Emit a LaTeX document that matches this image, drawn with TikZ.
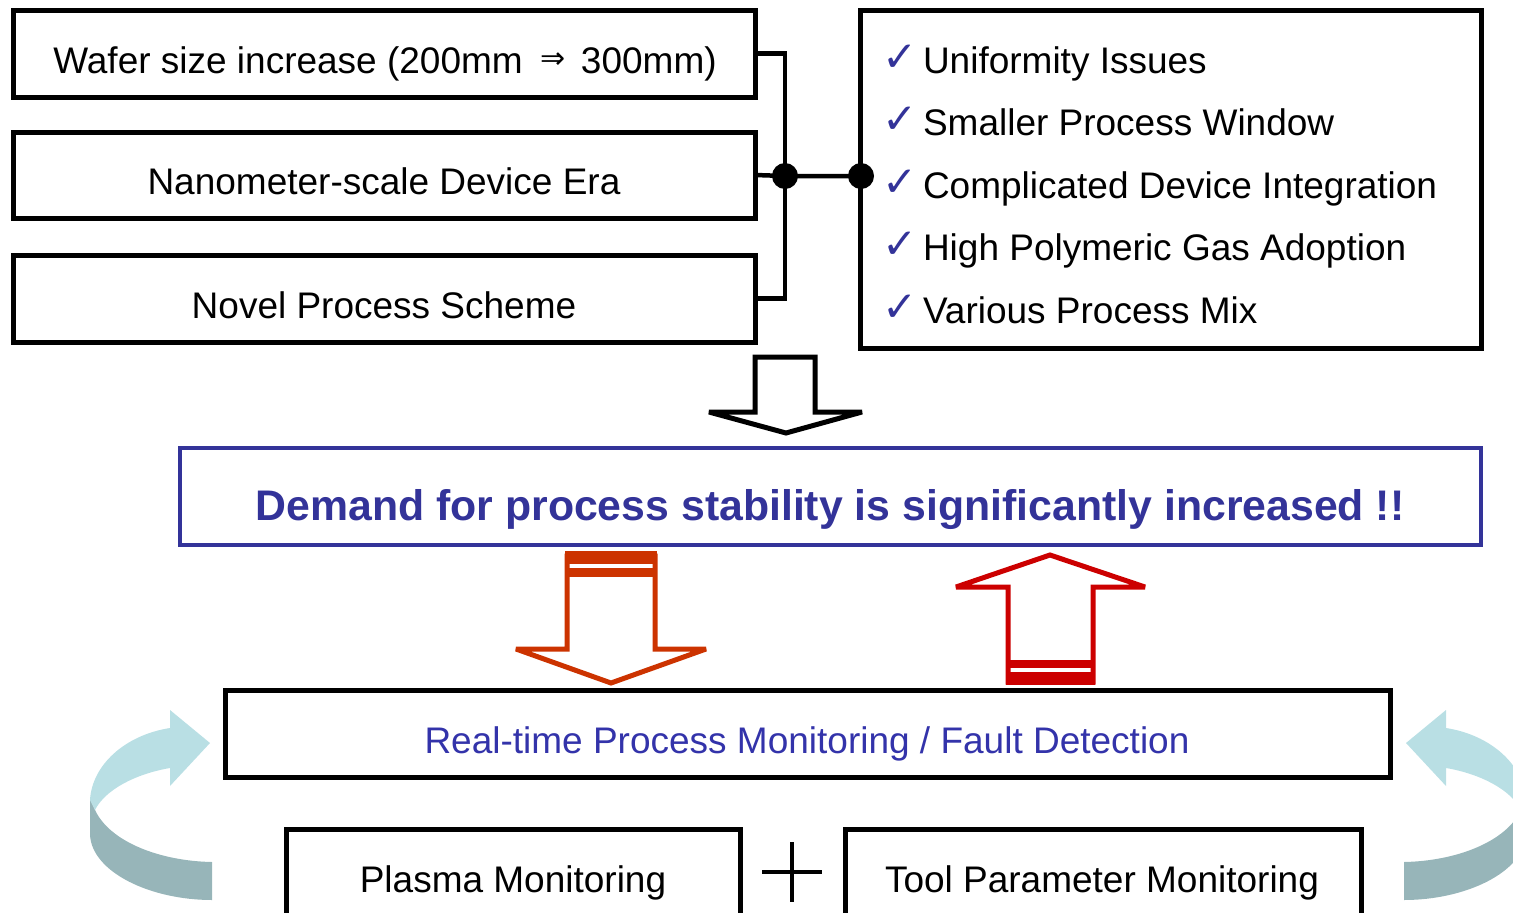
\documentclass[tikz,border=0pt]{standalone}
\usepackage{fontspec}
\setmainfont{Liberation Sans}
\newfontfamily\symfont{DejaVu Sans}
\definecolor{navy}{HTML}{333399}
\definecolor{rtblue}{HTML}{3333AA}
\definecolor{downred}{HTML}{CC3300}
\definecolor{upred}{HTML}{CC0000}
\definecolor{ribbonlight}{HTML}{B9DFE4}
\definecolor{ribbondark}{HTML}{97B5B9}
\tikzset{
  box/.style={draw=black, line width=5pt, inner sep=0pt, outer sep=0pt},
  bluebox/.style={draw=navy, line width=4pt, inner sep=0pt, outer sep=0pt},
  txt/.style={inner sep=0pt, outer sep=0pt, font=\fontsize{37}{44}\selectfont},
  chk/.style={inner sep=0pt, outer sep=0pt, text=navy, font=\symfont\fontsize{42}{46}\selectfont},
  wire/.style={line width=4.5pt},
  dot/.style={circle, fill=black, minimum size=26pt, inner sep=0pt, outer sep=0pt},
  hollow/.style={line width=5pt, line join=miter, miter limit=4, fill=white},
}
% curved ribbon arrow (light upper face, dark lower face)
\newcommand\ribbonshape{%
  \fill[ribbondark] (90,798) -- (90,835) .. controls (92,872) and (150,900) .. (212,900)
    -- (212,862) .. controls (160,861) and (110,842) .. (95,810) -- cycle;
  \fill[ribbonlight] (90,800) .. controls (92,765) and (125,735) .. (170,728)
    -- (170,710) -- (210,743) -- (170,786) -- (170,768)
    .. controls (135,774) and (105,790) .. (95,810) -- cycle;
}
\newcommand\thinimplies{\raisebox{5pt}{\symfont\fontsize{30}{34}\selectfont ⇒}}
\begin{document}
\begin{tikzpicture}[x=1pt, y=-1pt]
\useasboundingbox (0,0) rectangle (1513,913);
\clip (0,0) rectangle (1513,913);

% --- causes (left column)
\node[box, minimum width=742pt, minimum height=87pt] (wafer) at (384,53.5) {};
\node[box, minimum width=742pt, minimum height=86pt] (nano) at (384,175) {};
\node[box, minimum width=742pt, minimum height=87pt] (novel) at (384,298.5) {};
\node[txt, anchor=base] (waferT) at (385,73)
  {Wafer size increase (200mm\hspace{18pt}\thinimplies\hspace{15pt}300mm)};
\node[txt, anchor=base] (nanoT) at (384,194) {Nanometer-scale Device Era};
\node[txt, anchor=base] (novelT) at (384,318) {Novel Process Scheme};

% --- issues (right box)
\node[box, minimum width=621pt, minimum height=338pt] (issues) at (1170.5,179) {};
\foreach \t [count=\i from 0] in {Uniformity Issues, Smaller Process Window,
    Complicated Device Integration, High Polymeric Gas Adoption, Various Process Mix}{
  \node[chk, anchor=base west] (chk\i) at (882,{71+62.6*\i}) {✓};
  \node[txt, anchor=base west] (issue\i) at (923,{73+62.6*\i}) {\t};
}

% --- joining wires
\node[dot] (dotL) at (785,176) {};
\node[dot] (dotR) at (861,176) {};
\draw[wire] (wafer.east) -| (dotL.center) |- (novel.east);
\draw[wire] (nano.east) -- (dotL.center) -- (dotR.center);

% --- hollow arrow down to demand
\draw[hollow] (755,357) -- (755,412) -- (709,412) -- (786,433) -- (862,412)
  -- (815,412) -- (815,357) -- cycle;

% --- demand box
\node[bluebox, minimum width=1301pt, minimum height=97pt] (demand) at (830.5,496.5) {};
\node[inner sep=0pt, anchor=base, text=navy, font=\bfseries\fontsize{42.8}{48}\selectfont] (demandT) at (830,520)
  {Demand for process stability is significantly increased !!};

% --- red arrows between demand and monitoring
\draw[hollow, draw=downred] (567,556) -- (567,649) -- (516,649) -- (611,683) -- (706,649)
  -- (655,649) -- (655,556) -- cycle;
\fill[downred] (565,551) rectangle (657,564);
\fill[downred] (565,568) rectangle (657,577);

\draw[hollow, draw=upred] (1050,555) -- (1145,587) -- (1093,587) -- (1093,682) -- (1008,682)
  -- (1008,587) -- (956,587) -- cycle;
\fill[upred] (1006,660) rectangle (1095,668);
\fill[upred] (1006,672) rectangle (1095,685);

% --- monitoring box
\node[box, minimum width=1165pt, minimum height=87pt] (rt) at (807.5,733.5) {};
\node[txt, anchor=base, text=rtblue] (rtT) at (807,753) {Real-time Process Monitoring / Fault Detection};

% --- bottom boxes
\node[box, anchor=north west, minimum width=454pt, minimum height=130pt] (plasma) at (286,829) {};
\node[box, anchor=north west, minimum width=516pt, minimum height=130pt] (tool) at (845,829) {};
\node[txt, anchor=base] (plasmaT) at (513,892) {Plasma Monitoring};
\node[txt, anchor=base] (toolT) at (1102,892) {Tool Parameter Monitoring};

% plus sign
\draw[line width=4.5pt] (762,872) -- (822,872);
\draw[line width=4.5pt] (792,842) -- (792,902);

% --- curved ribbon arrows on both sides
\ribbonshape
\begin{scope}[shift={(1616,0)}, xscale=-1]
  \ribbonshape
\end{scope}
\end{tikzpicture}
\end{document}
